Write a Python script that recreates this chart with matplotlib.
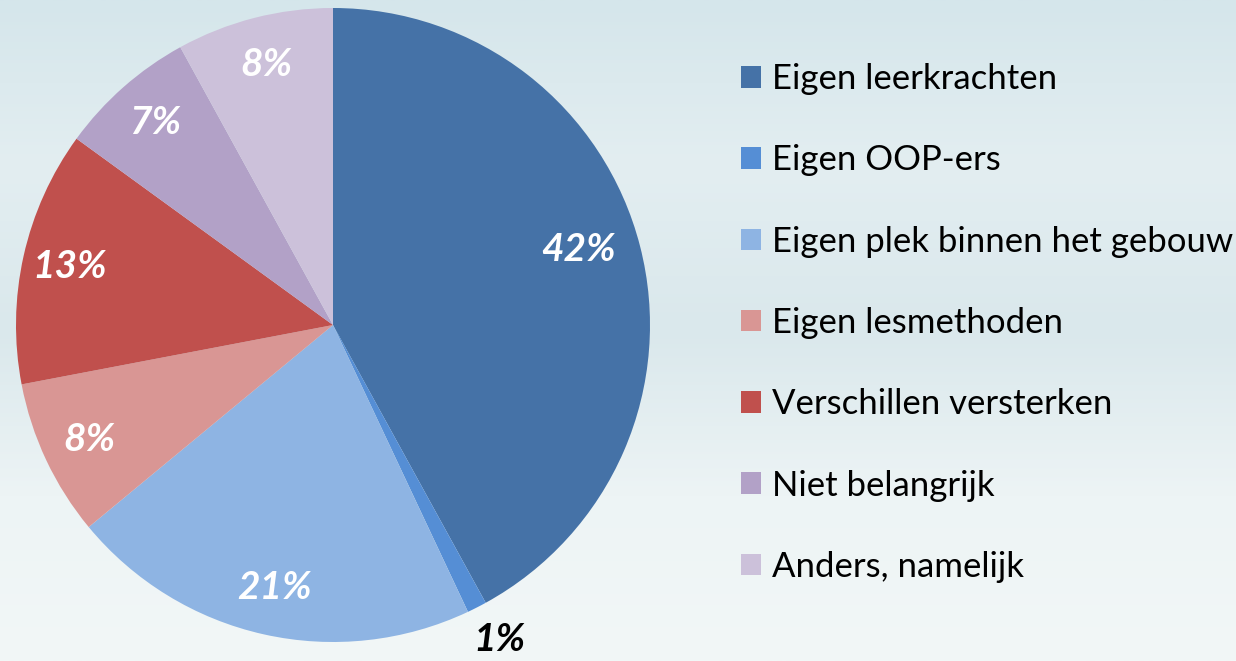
import numpy as np
import matplotlib
matplotlib.use("Agg")
import matplotlib.pyplot as plt
from matplotlib.patches import Patch

plt.rcParams['font.family'] = ['Lato', 'DejaVu Sans']

# gegevens
labels = ['Eigen leerkrachten', 'Eigen OOP-ers', 'Eigen plek binnen het gebouw',
          'Eigen lesmethoden', 'Verschillen versterken', 'Niet belangrijk',
          'Anders, namelijk']
values = [42, 1, 21, 8, 13, 7, 8]
colors = ['#4572A7', '#558ED5', '#8EB4E3', '#D99694', '#C0504D', '#B2A1C7', '#CCC1DA']

fig = plt.figure(figsize=(12.36, 6.61), dpi=100)

# achtergrond: lichte ijsblauwe verloop
bg = fig.add_axes([0, 0, 1, 1], zorder=-10)
grad = np.linspace(0, 1, 256).reshape(-1, 1)
cmap = matplotlib.colors.LinearSegmentedColormap.from_list(
    'ijs', ['#D5E6EB', '#E3EEF1', '#DAE8EC', '#EDF4F5', '#F2F7F7'])
bg.imshow(grad, aspect='auto', cmap=cmap, extent=[0, 1, 0, 1])
bg.axis('off')

ax = fig.add_axes([16 / 1236, 19 / 661, 634 / 1236, 634 / 661])
wedges, texts, autotexts = ax.pie(
    values, colors=colors, startangle=90, counterclock=False,
    autopct='%d%%', pctdistance=0.85, radius=1,
    wedgeprops=dict(linewidth=0),
    textprops=dict(color='white', fontsize=28, fontweight='bold', fontstyle='italic'))
ax.set_xlim(-1, 1)
ax.set_ylim(-1, 1)
ax.set_aspect('equal')

# grootste segment: label iets meer naar binnen
ang0 = np.deg2rad(90 - 360 * (values[0] / 2) / 100)
autotexts[0].set_position((0.8 * np.cos(ang0), 0.8 * np.sin(ang0) + 0.04))

# klein segment: label buiten de taart, zwart
autotexts[1].set_color('black')
ang = np.deg2rad(90 - 360 * (values[0] + values[1] / 2) / 100)
autotexts[1].set_position((1.115 * np.cos(ang) + 0.02, 1.115 * np.sin(ang)))
autotexts[1].set_clip_on(False)

handles = [Patch(facecolor=c, edgecolor='none') for c in colors]
fig.legend(handles, labels, loc='upper left', bbox_to_anchor=(741 / 1236, 1 - 63 / 661),
           frameon=False, fontsize=25, handlelength=0.58, handleheight=0.58,
           handletextpad=0.3, labelspacing=1.42, borderpad=0, borderaxespad=0)

fig.savefig('out.png', dpi=100)
